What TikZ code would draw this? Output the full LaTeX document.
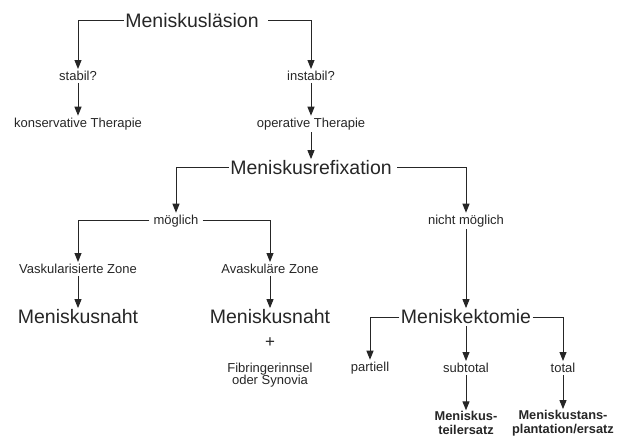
\documentclass[tikz,border=0pt]{standalone}
\usepackage{fontspec}
\setmainfont{Liberation Sans}
\usetikzlibrary{arrows.meta}
\begin{document}
\begin{tikzpicture}[x=1pt,y=-1pt,
  big/.style={font=\fontsize{19.5}{22}\selectfont, text=black!85, inner sep=1.5pt},
  small/.style={font=\fontsize{13}{14}\selectfont, text=black!85, inner sep=2pt},
  bsmall/.style={font=\bfseries\fontsize{12.8}{13.5}\selectfont, text=black!85, align=center, inner sep=1pt},
  arr/.style={draw=black!85, line width=1pt, -{Triangle[length=9pt,width=7pt]}}]
\useasboundingbox (0,0) rectangle (629,438);
% nodes
\node[big] (les) at (192,21) {Meniskusläsion};
\node[small] (stab) at (78,76) {stabil?};
\node[small] (inst) at (311,76) {instabil?};
\node[small] (kons) at (78,124) {konservative Therapie};
\node[small] (oper) at (311,124) {operative Therapie};
\node[big] (refix) at (311,168) {Meniskusrefixation};
\node[small, inner xsep=4pt] (moeg) at (176,221) {möglich};
\node[small] (nicht) at (466,221) {nicht möglich};
\node[small] (vask) at (78,269) {Vaskularisierte Zone};
\node[small] (avask) at (270,269) {Avaskuläre Zone};
\node[big] (naht1) at (78,317) {Meniskusnaht};
\node[big] (naht2) at (270,317) {Meniskusnaht};
\node[small, font=\fontsize{17}{18}\selectfont] (plus) at (270,343) {+};
\node[small, align=center, font=\fontsize{13}{12.5}\selectfont] (fibr) at (270,375) {Fibringerinnsel\\oder Synovia};
\node[big] (ektom) at (466,317) {Meniskektomie};
\node[small] (part) at (370,368) {partiell};
\node[small] (subt) at (466,368) {subtotal};
\node[small] (tot) at (563,368) {total};
\node[bsmall] (ers1) at (466,423) {Meniskus-\\teilersatz};
\node[bsmall] (ers2) at (563,423) {Meniskustans-\\plantation/ersatz};
% connectors
\draw[arr] (les.west) -| (stab.north);
\draw[arr] ([xshift=8pt]les.east) -| (inst.north);
\draw[arr] (stab.south) -- (kons.north);
\draw[arr] (inst.south) -- (oper.north);
\draw[arr] (oper.south) -- (refix.north);
\draw[arr] (refix.west) -| (moeg.north);
\draw[arr] ([xshift=4pt]refix.east) -| (nicht.north);
\draw[arr] (moeg.west) -| (vask.north);
\draw[arr] (moeg.east) -| (avask.north);
\draw[arr] (vask.south) -- (naht1.north);
\draw[arr] (avask.south) -- (naht2.north);
\draw[arr] (nicht.south) -- (ektom.north);
\draw[arr] (ektom.west) -| (part.north);
\draw[arr] (ektom.south) -- (subt.north);
\draw[arr] (ektom.east) -| (tot.north);
\draw[arr] (subt.south) -- (ers1.north);
\draw[arr] (tot.south) -- (ers2.north);
\end{tikzpicture}
\end{document}
